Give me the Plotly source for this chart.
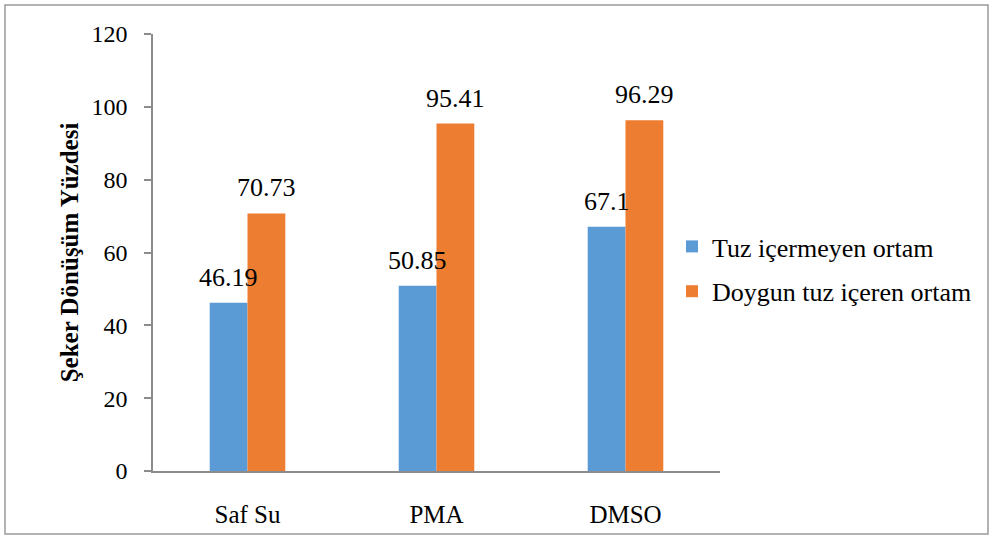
import plotly.graph_objects as go

# Category names and measured conversion percentages
categories = ["Saf Su", "PMA", "DMSO"]
series_names = ["Tuz içermeyen ortam", "Doygun tuz içeren ortam"]
tuzsuz = [46.19, 50.85, 67.1]
doygun = [70.73, 95.41, 96.29]
colors = ["#5B9BD5", "#ED7D31"]
y_ticks = [0, 20, 40, 60, 80, 100, 120]

FONT = "Liberation Serif"
W, H = 993, 536
ML, MR, MT, MB = 153, 273, 34, 65
PW, PH = W - ML - MR, H - MT - MB

fig = go.Figure()
for i, (name, vals) in enumerate(zip(series_names, [tuzsuz, doygun])):
    fig.add_trace(go.Bar(
        x=categories, y=vals, name=name,
        marker=dict(color=colors[i], line=dict(width=0)),
        legendgroup=f"g{i}",
    ))

# Value labels above each bar
bar_offset = 0.099
annotations = []
for i, vals in enumerate([tuzsuz, doygun]):
    sign = -1 if i == 0 else 1
    for k, v in enumerate(vals):
        annotations.append(dict(
            x=k + sign * bar_offset, y=v, xref="x", yref="y",
            text=f"{v:g}", showarrow=False, yanchor="bottom",
            yshift=9, font=dict(family=FONT, size=26, color="#000000"),
        ))

def px_x(p):
    return (p - ML) / PW

def px_y(p):
    return (H - MB - p) / PH

fig.update_layout(
    width=W, height=H,
    margin=dict(l=ML, r=MR, t=MT, b=MB, autoexpand=False),
    paper_bgcolor="white", plot_bgcolor="white",
    barmode="group", bargap=0.6, bargroupgap=0,
    font=dict(family=FONT, size=23, color="#000000"),
    showlegend=True,
    legend=dict(
        x=px_x(672), y=px_y(269), xanchor="left", yanchor="middle",
        font=dict(family=FONT, size=26), tracegroupgap=8,
        bgcolor="rgba(0,0,0,0)",
    ),
    annotations=annotations,
    shapes=[dict(
        type="rect", xref="paper", yref="paper",
        x0=px_x(5), x1=px_x(988), y0=px_y(534), y1=px_y(5),
        line=dict(color="#9a9a9a", width=1.5), layer="below",
    )],
)
fig.update_xaxes(
    range=[-0.5, 2.5], showline=True, linecolor="#8c8c8c", linewidth=1.5,
    ticks="", showgrid=False, tickfont=dict(family=FONT, size=25),
    ticklabelstandoff=20, automargin=False,
)
fig.update_yaxes(
    range=[0, 120], tickvals=y_ticks, showline=True, linecolor="#8c8c8c",
    linewidth=1.5, ticks="outside", ticklen=7, tickcolor="#8c8c8c",
    tickwidth=1.5, showgrid=False, zeroline=False,
    tickfont=dict(family=FONT, size=24), ticklabelstandoff=12,
    automargin=False,
    title=dict(text="<b>Şeker Dönüşüm Yüzdesi</b>",
               font=dict(family=FONT, size=25), standoff=6),
)

fig.write_html("out.html")
